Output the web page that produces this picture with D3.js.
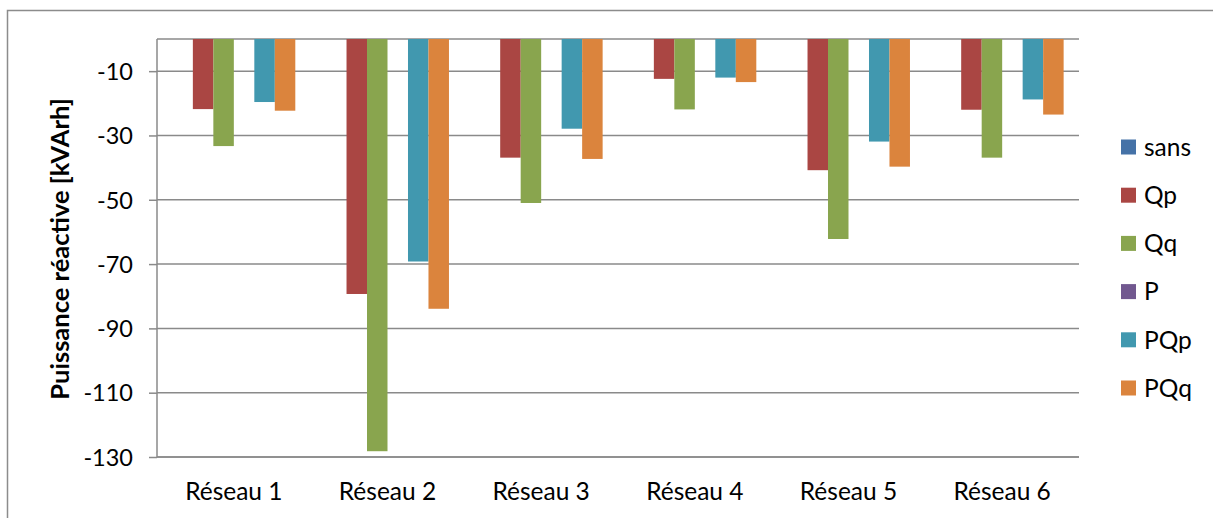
<!DOCTYPE html>
<html>
<head>
<meta charset="utf-8">
<script src="https://cdn.jsdelivr.net/npm/d3@7/dist/d3.min.js"></script>
<style>
  html, body { margin: 0; padding: 0; background: #fff; }
  svg { display: block; }
  text { font-family: Lato, "Noto Sans", sans-serif; fill: #000; }
</style>
</head>
<body>
<svg id="chart" width="1213" height="518"></svg>
<script>
// Reactive energy per network and control strategy (kVArh)
const categories = ["Réseau 1", "Réseau 2", "Réseau 3", "Réseau 4", "Réseau 5", "Réseau 6"];
const seriesNames = ["sans", "Qp", "Qq", "P", "PQp", "PQq"];
const sans = [0, 0, 0, 0, 0, 0];
const Qp   = [-21.8, -79.3, -36.9, -12.4, -40.8, -22.0];
const Qq   = [-33.3, -128.2, -51.0, -21.9, -62.2, -36.9];
const P    = [0, 0, 0, 0, 0, 0];
const PQp  = [-19.6, -69.2, -27.9, -12.0, -31.9, -18.8];
const PQq  = [-22.3, -83.9, -37.3, -13.4, -39.7, -23.5];
const yTicks = [-130, -110, -90, -70, -50, -30, -10];
const yTitle = "Puissance réactive [kVArh]";

const seriesValues = [sans, Qp, Qq, P, PQp, PQq];
const colors = ["#4572A7", "#AA4643", "#89A54E", "#71588F", "#4198AF", "#DB843D"];

const svg = d3.select("#chart");
const plot = { left: 157, right: 1079, top: 39, bottom: 457 };

// outer chart frame (runs off the right and bottom edges)
svg.append("rect")
  .attr("x", 7.5).attr("y", 10.5)
  .attr("width", 1240).attr("height", 540)
  .attr("fill", "none").attr("stroke", "#8c8c8c").attr("stroke-width", 1.5);

const y = d3.scaleLinear().domain([-130, 0]).range([plot.bottom, plot.top]);
const x0 = d3.scaleBand().domain(categories)
  .range([plot.left, plot.right]).paddingInner(0.2).paddingOuter(0.1);
const x1 = d3.scaleBand().domain(seriesNames).range([0, x0.bandwidth()]);

// horizontal gridlines, including the zero line at the top
const gridVals = yTicks.concat([0]);
svg.append("g").selectAll("line").data(gridVals).join("line")
  .attr("x1", plot.left).attr("x2", plot.right)
  .attr("y1", d => y(d)).attr("y2", d => y(d))
  .attr("stroke", "#8a8a8a").attr("stroke-width", 1.5);

// bars
const barG = svg.append("g");
categories.forEach((c, ci) => {
  seriesNames.forEach((s, si) => {
    const v = seriesValues[si][ci];
    if (v === 0) return;
    barG.append("rect")
      .attr("x", x0(c) + x1(s))
      .attr("y", y(0))
      .attr("width", x1.bandwidth())
      .attr("height", y(v) - y(0))
      .attr("fill", colors[si]);
  });
});

// y axis
const yAxis = d3.axisLeft(y).tickValues(yTicks).tickSize(8).tickPadding(16)
  .tickFormat(d => d);
const gy = svg.append("g").attr("transform", `translate(${plot.left},0)`).call(yAxis);
gy.select(".domain").attr("stroke", "#8a8a8a").attr("stroke-width", 1.5)
  .attr("d", `M0,${plot.top}V${plot.bottom}`);
gy.selectAll(".tick line").attr("stroke", "#8a8a8a").attr("stroke-width", 1.5);
gy.selectAll(".tick text").attr("font-size", 23.5).attr("font-family", "Lato").attr("fill", "#000")
  .attr("dy", "0.35em");

// x axis line and category labels
svg.append("line")
  .attr("x1", plot.left).attr("x2", plot.right)
  .attr("y1", plot.bottom).attr("y2", plot.bottom)
  .attr("stroke", "#8a8a8a").attr("stroke-width", 1.5);
svg.append("g").selectAll("text").data(categories).join("text")
  .attr("x", d => x0(d) + x0.bandwidth() / 2)
  .attr("y", 500)
  .attr("text-anchor", "middle")
  .attr("font-size", 24.5)
  .text(d => d);

// y axis title
svg.append("text")
  .attr("transform", "translate(69,249) rotate(-90)")
  .attr("text-anchor", "middle")
  .attr("font-size", 25.5)
  .attr("font-weight", "bold")
  .text(yTitle);

// legend
const legend = svg.append("g");
seriesNames.forEach((s, i) => {
  const cy = 147 + i * 48.2;
  legend.append("rect")
    .attr("x", 1121).attr("y", cy - 7.5)
    .attr("width", 15).attr("height", 15)
    .attr("fill", colors[i]);
  legend.append("text")
    .attr("x", 1144).attr("y", cy)
    .attr("dy", "0.36em")
    .attr("font-size", 24.5)
    .text(s);
});
</script>
</body>
</html>
